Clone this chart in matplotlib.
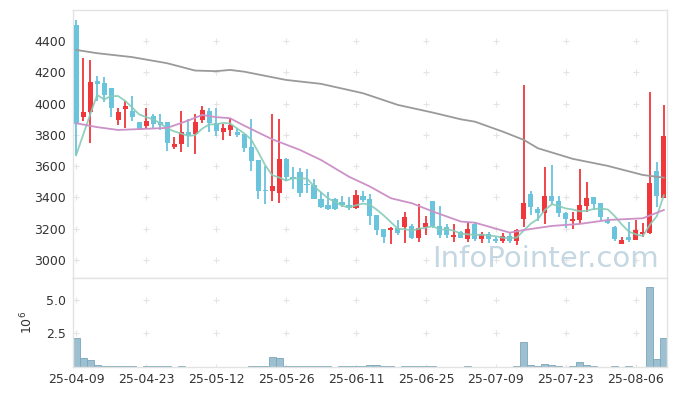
import matplotlib
matplotlib.use("Agg")
import matplotlib.pyplot as plt
import numpy as np
import pandas as pd

# daily OHLC (KRW)
opens = [4504, 3917, 3946, 4146, 4133, 4099, 3898, 3969, 3954, 3882,
         3860, 3920, 3882, 3882, 3720, 3741, 3818, 3809, 3894, 3954,
         3877, 3818, 3830, 3818, 3805, 3726, 3640, 3448, 3444, 3427,
         3645, 3533, 3563, 3482, 3482, 3393, 3350, 3393, 3371, 3354,
         3333, 3410, 3393, 3288, 3197, 3190, 3203, 3212, 3220, 3143,
         3212, 3378, 3220, 3212, 3147, 3177, 3135, 3231, 3137, 3167,
         3137, 3120, 3154, 3120, 3261, 3423, 3325, 3299, 3410, 3376,
         3299, 3252, 3258, 3348, 3403, 3365, 3258, 3212, 3105, 3148,
         3130, 3165, 3173, 3570, 3395]
highs = [4536, 4295, 4278, 4176, 4172, 4100, 3973, 4018, 4048, 3885,
         3975, 3937, 3937, 3885, 3790, 3954, 3900, 3933, 3984, 3975,
         3975, 3871, 3903, 3843, 3805, 3901, 3640, 3602, 3935, 3905,
         3650, 3597, 3589, 3585, 3517, 3435, 3435, 3395, 3409, 3405,
         3446, 3441, 3421, 3288, 3197, 3212, 3254, 3306, 3233, 3361,
         3280, 3378, 3344, 3233, 3229, 3185, 3245, 3240, 3180, 3180,
         3150, 3171, 3171, 3197, 4118, 3444, 3342, 3594, 3610, 3410,
         3308, 3310, 3584, 3498, 3403, 3365, 3275, 3215, 3148, 3242,
         3254, 3235, 4077, 3629, 3992]
lows = [3672, 3890, 3749, 4018, 4013, 3915, 3864, 3843, 3890, 3832,
        3843, 3847, 3830, 3700, 3712, 3693, 3720, 3677, 3877, 3822,
        3792, 3766, 3792, 3788, 3690, 3572, 3393, 3359, 3376, 3363,
        3505, 3457, 3405, 3427, 3393, 3333, 3320, 3320, 3342, 3320,
        3325, 3371, 3226, 3160, 3107, 3101, 3160, 3109, 3137, 3117,
        3160, 3207, 3139, 3139, 3117, 3140, 3117, 3120, 3107, 3110,
        3107, 3107, 3107, 3094, 3213, 3290, 3248, 3231, 3350, 3274,
        3205, 3200, 3229, 3306, 3318, 3250, 3230, 3122, 3105, 3117,
        3126, 3150, 3165, 3340, 3395]
closes = [3869, 3946, 4138, 4129, 4056, 3975, 3946, 3986, 3917, 3834,
          3890, 3873, 3864, 3749, 3741, 3818, 3800, 3882, 3958, 3877,
          3826, 3843, 3864, 3800, 3719, 3636, 3444, 3444, 3474, 3645,
          3533, 3521, 3431, 3478, 3393, 3341, 3329, 3325, 3350, 3333,
          3414, 3384, 3284, 3190, 3146, 3203, 3173, 3275, 3143, 3207,
          3237, 3220, 3160, 3160, 3160, 3143, 3199, 3137, 3167, 3137,
          3120, 3154, 3120, 3192, 3363, 3338, 3299, 3410, 3376, 3299,
          3265, 3265, 3352, 3395, 3357, 3276, 3237, 3135, 3130, 3130,
          3190, 3182, 3493, 3408, 3796]
# volume in millions of shares
volumes = [2.2, 0.65, 0.5, 0.15, 0.07, 0.07, 0.07, 0.07, 0.07, 0.01,
           0.07, 0.07, 0.07, 0.07, 0.01, 0.07, 0.01, 0.01, 0.01, 0.01,
           0.01, 0.01, 0.01, 0.01, 0.01, 0.07, 0.07, 0.07, 0.75, 0.68,
           0.07, 0.07, 0.07, 0.07, 0.07, 0.07, 0.07, 0.01, 0.07, 0.07,
           0.07, 0.07, 0.15, 0.15, 0.07, 0.07, 0.01, 0.07, 0.07, 0.07,
           0.07, 0.07, 0.01, 0.01, 0.01, 0.01, 0.07, 0.01, 0.01, 0.01,
           0.01, 0.01, 0.01, 0.07, 1.9, 0.15, 0.07, 0.25, 0.18, 0.07,
           0.01, 0.07, 0.4, 0.15, 0.07, 0.01, 0.01, 0.07, 0.01, 0.07,
           0.01, 0.01, 6.0, 0.6, 2.2]

# moving averages: short one from closes, first points and longer ones
ma5_head = [3670, 3800, 3930, 4056]
ma20_idx = [0, 3, 6, 13, 16, 18, 20, 22, 24, 28, 32, 35, 39, 42, 45, 48, 51,
            55, 57, 62, 64, 68, 72, 76, 81, 84]
ma20_vals = [3875, 3850, 3832, 3845, 3892, 3928, 3914, 3907, 3860, 3773, 3704,
             3640, 3533, 3470, 3395, 3363, 3310, 3246, 3239, 3175, 3192, 3218,
             3231, 3256, 3267, 3320]
ma120_idx = [0, 3, 8, 13, 17, 20, 22, 24, 30, 35, 41, 46, 51, 55, 57, 61, 64,
             66, 71, 76, 81, 84]
ma120_vals = [4344, 4323, 4298, 4259, 4212, 4208, 4216, 4205, 4152, 4127, 4067,
              3992, 3943, 3900, 3885, 3821, 3768, 3715, 3647, 3602, 3544, 3527]

tick_labels = ["25-04-09", "25-04-23", "25-05-12", "25-05-26", "25-06-11",
               "25-06-25", "25-07-09", "25-07-23", "25-08-06"]
price_ticks = [3000, 3200, 3400, 3600, 3800, 4000, 4200, 4400]
vol_ticks = [2.5, 5.0]

UP = "#f0373c"
DOWN = "#6ac4dc"
SPINE = "#e3e3e3"

x = np.arange(len(closes))
o = np.array(opens)
c = np.array(closes)
colors = [UP if cc >= oo else DOWN for oo, cc in zip(o, c)]

ma5 = pd.Series(closes).rolling(5).mean().to_numpy()
ma5[:len(ma5_head)] = ma5_head

fig = plt.figure(figsize=(6.77, 3.96), dpi=100)
ax = fig.add_axes([0.108, 0.298, 0.877, 0.677])
axv = fig.add_axes([0.108, 0.0732, 0.877, 0.2248], sharex=ax)

# faint "+" grid at the tick crossings
xt = list(range(0, len(closes), 10))
gx, gy = np.meshgrid(xt, price_ticks)
ax.scatter(gx.ravel(), gy.ravel(), marker="+", s=18, color="#e4e4e4", lw=0.8, zorder=0)
gx, gy = np.meshgrid(xt, [0] + vol_ticks)
axv.scatter(gx.ravel(), gy.ravel(), marker="+", s=18, color="#e4e4e4", lw=0.8, zorder=0)

# candles
ax.vlines(x, lows, highs, colors=colors, lw=1.3, zorder=2)
body = np.maximum(np.abs(c - o), 6)
ax.bar(x, body, bottom=np.minimum(o, c), width=0.72, color=colors, zorder=3)

ax.plot(x, ma5, color="#86cbb8", lw=1.3, alpha=0.9, zorder=4)
ax.plot(ma20_idx, ma20_vals, color="#cc92c8", lw=1.3, zorder=4)
ax.plot(ma120_idx, ma120_vals, color="#9a9a9a", lw=1.3, zorder=4)

ax.text(0.987, 0.02, "InfoPointer.com", transform=ax.transAxes, ha="right",
        va="bottom", fontsize=21, color="#b6cedb", alpha=0.8, zorder=5)

ax.set_ylim(2885, 4600)
ax.set_yticks(price_ticks)
ax.set_xlim(-0.43, len(closes) - 0.57)
ax.tick_params(axis="x", labelbottom=False, length=0)
ax.tick_params(axis="y", length=0, labelsize=9, labelcolor="#333333", pad=5)

# volume
axv.bar(x, volumes, width=1.0, color="#9dc0d0", edgecolor="#7ba6ba", lw=0.6)
axv.set_ylim(0, 6.64)
axv.set_yticks(vol_ticks)
axv.set_yticklabels(["2.5", "5.0"])
axv.set_xticks(xt)
axv.set_xticklabels(tick_labels)
axv.tick_params(length=0, labelsize=9, labelcolor="#333333")
axv.tick_params(axis="y", pad=5)
axv.tick_params(axis="x", pad=4)
axv.set_ylabel("$10^6$", fontsize=9, color="#333333", labelpad=8)

for a in (ax, axv):
    for s in a.spines.values():
        s.set_color(SPINE)
        s.set_linewidth(1.0)

fig.savefig("out.png", dpi=100)
